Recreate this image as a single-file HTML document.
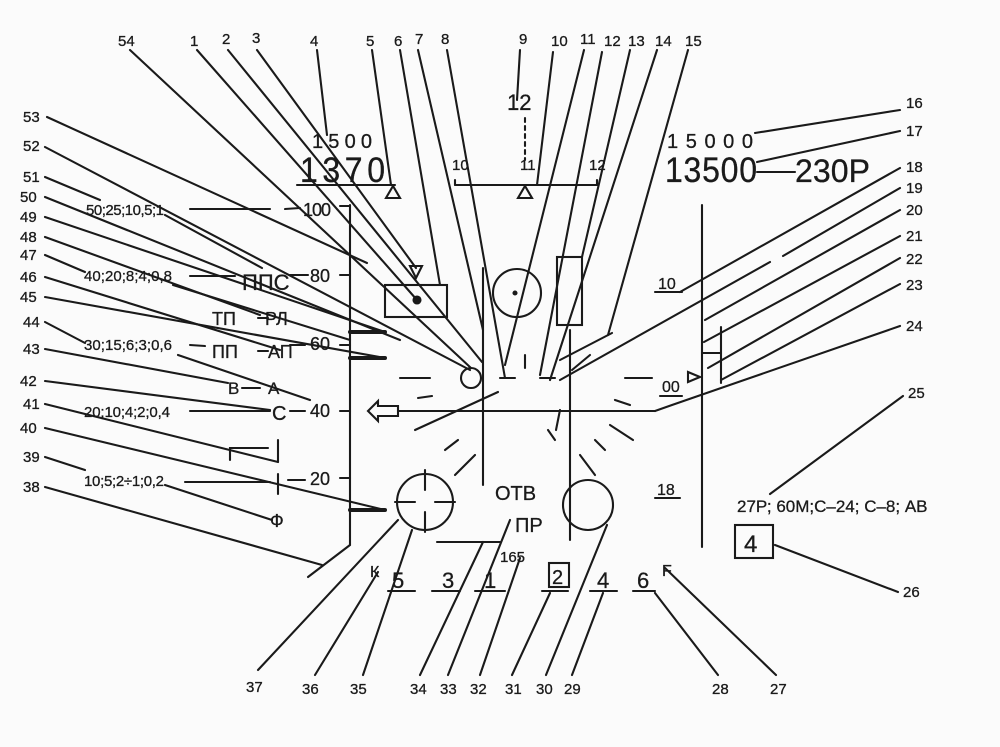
<!DOCTYPE html>
<html><head><meta charset="utf-8"><style>
html,body{margin:0;padding:0;background:#fbfbfb;}
svg{display:block}
text{font-family:"Liberation Sans",sans-serif;fill:#1a1a1a;stroke:#1a1a1a;stroke-width:0.3}
.n{font-size:15px}
.c{font-family:"Liberation Sans Narrow","Liberation Sans",sans-serif}
</style></head><body>
<svg width="1000" height="747" viewBox="0 0 1000 747" xmlns="http://www.w3.org/2000/svg">
<g stroke="#1a1a1a" stroke-width="2.1" fill="none" stroke-linecap="round">
<line x1="350" y1="205" x2="350" y2="545"/>
<line x1="340" y1="206" x2="350" y2="206"/>
<line x1="340" y1="275" x2="350" y2="275"/>
<line x1="340" y1="345" x2="350" y2="345"/>
<line x1="340" y1="411" x2="350" y2="411"/>
<line x1="340" y1="478" x2="350" y2="478"/>
<line x1="350" y1="545" x2="308" y2="577"/>
<line x1="350" y1="332" x2="385" y2="332" stroke-width="4"/>
<line x1="350" y1="358" x2="385" y2="358" stroke-width="4"/>
<line x1="350" y1="510" x2="385" y2="510" stroke-width="4"/>
<line x1="297" y1="185" x2="395" y2="185"/>
<polygon points="386,198 400,198 393,186"/>
<line x1="455" y1="185" x2="597" y2="185"/>
<line x1="455" y1="180" x2="455" y2="185"/><line x1="597" y1="180" x2="597" y2="185"/>
<polygon points="518,198 532,198 525,186"/>
<line x1="525" y1="118" x2="525" y2="160" stroke-dasharray="4,4"/>
<line x1="702" y1="205" x2="702" y2="547"/>
<line x1="721" y1="327" x2="721" y2="383"/>
<line x1="702" y1="353" x2="721" y2="353"/>
<polygon points="688,372 700,377 688,382"/>
<line x1="398" y1="411" x2="655" y2="411"/>
<polyline points="655,411 672,405 900,326"/>
<polygon points="368,411 378,401 378,406 398,406 398,416 378,416 378,421"/>
<line x1="483" y1="268" x2="483" y2="485"/>
<line x1="570" y1="330" x2="570" y2="540"/>
<rect x="385" y="285" width="62" height="32"/>
<circle cx="417" cy="300" r="3.5" fill="#1a1a1a"/>
<polygon points="410,266 422,266 416,278"/>
<circle cx="517" cy="293" r="24"/>
<circle cx="515" cy="293" r="1.5" fill="#1a1a1a"/>
<rect x="557" y="257" width="25" height="68"/>
<circle cx="471" cy="378" r="10"/>
<circle cx="425" cy="502" r="28"/>
<line x1="425" y1="470" x2="425" y2="490"/><line x1="425" y1="512" x2="425" y2="532"/>
<line x1="395" y1="502" x2="415" y2="502"/><line x1="435" y1="502" x2="455" y2="502"/>
<circle cx="588" cy="505" r="25"/>
<line x1="437" y1="542" x2="500" y2="542"/>
<line x1="400" y1="378" x2="430" y2="378"/><line x1="418" y1="398" x2="432" y2="396"/>
<line x1="500" y1="378" x2="515" y2="378"/><line x1="540" y1="378" x2="555" y2="378"/>
<line x1="625" y1="378" x2="652" y2="378"/>
<line x1="415" y1="430" x2="498" y2="392"/>
<line x1="445" y1="450" x2="458" y2="440"/><line x1="455" y1="475" x2="475" y2="455"/>
<line x1="615" y1="400" x2="630" y2="405"/><line x1="610" y1="425" x2="633" y2="440"/>
<line x1="595" y1="440" x2="605" y2="450"/><line x1="580" y1="455" x2="595" y2="475"/>
<line x1="548" y1="430" x2="555" y2="440"/>
<line x1="560" y1="410" x2="556" y2="430"/>
<line x1="525" y1="355" x2="525" y2="368"/>
<line x1="590" y1="355" x2="572" y2="370"/>
<line x1="190" y1="209" x2="270" y2="209"/><line x1="285" y1="209" x2="300" y2="208"/>
<line x1="190" y1="276" x2="235" y2="276"/><line x1="290" y1="275" x2="308" y2="275"/>
<line x1="258" y1="318" x2="268" y2="318"/>
<line x1="190" y1="345" x2="205" y2="346"/><line x1="258" y1="351" x2="268" y2="351"/><line x1="290" y1="345" x2="305" y2="345"/>
<line x1="242" y1="388" x2="260" y2="388"/>
<line x1="190" y1="411" x2="270" y2="411"/><line x1="290" y1="411" x2="305" y2="411"/>
<polyline points="230,460 230,448 268,448"/><line x1="278" y1="440" x2="278" y2="462"/>
<line x1="185" y1="482" x2="270" y2="482"/><line x1="278" y1="474" x2="278" y2="494"/><line x1="288" y1="480" x2="305" y2="480"/>
<line x1="757" y1="172" x2="795" y2="172"/>
<line x1="655" y1="292" x2="682" y2="292"/><line x1="660" y1="396" x2="682" y2="396"/><line x1="655" y1="498" x2="680" y2="498"/>
<line x1="388" y1="591" x2="415" y2="591"/><line x1="432" y1="591" x2="460" y2="591"/><line x1="475" y1="591" x2="505" y2="591"/>
<line x1="542" y1="591" x2="568" y2="591"/><line x1="590" y1="591" x2="617" y2="591"/><line x1="633" y1="591" x2="655" y2="591"/>
<rect x="549" y="563" width="20" height="24"/>
<rect x="735" y="525" width="38" height="33"/>
<line x1="130" y1="50" x2="471" y2="368"/>
<line x1="197" y1="50" x2="417" y2="300"/>
<line x1="228" y1="50" x2="482" y2="362"/>
<line x1="257" y1="50" x2="416" y2="268"/>
<line x1="317" y1="50" x2="327" y2="135"/>
<line x1="372" y1="50" x2="391" y2="185"/>
<line x1="400" y1="50" x2="440" y2="285"/>
<line x1="418" y1="50" x2="483" y2="330"/>
<line x1="447" y1="50" x2="505" y2="378"/>
<line x1="520" y1="50" x2="517" y2="100"/>
<line x1="553" y1="52" x2="537" y2="185"/>
<line x1="584" y1="50" x2="505" y2="365"/>
<line x1="602" y1="52" x2="540" y2="375"/>
<line x1="630" y1="50" x2="582" y2="257"/>
<line x1="657" y1="50" x2="550" y2="380"/>
<line x1="688" y1="50" x2="608" y2="335"/><line x1="560" y1="360" x2="612" y2="333"/>
<line x1="900" y1="110" x2="755" y2="133"/>
<line x1="900" y1="131" x2="757" y2="162"/>
<line x1="900" y1="168" x2="680" y2="292"/>
<line x1="900" y1="188" x2="783" y2="256"/><line x1="770" y1="262" x2="560" y2="380"/>
<line x1="900" y1="210" x2="705" y2="320"/>
<line x1="900" y1="236" x2="704" y2="342"/>
<line x1="900" y1="258" x2="708" y2="368"/>
<line x1="900" y1="284" x2="721" y2="380"/>
<line x1="903" y1="396" x2="770" y2="494"/>
<line x1="898" y1="592" x2="775" y2="545"/>
<line x1="776" y1="675" x2="665" y2="568"/>
<line x1="718" y1="675" x2="655" y2="593"/>
<line x1="572" y1="675" x2="603" y2="593"/>
<line x1="546" y1="675" x2="607" y2="525"/>
<line x1="512" y1="675" x2="550" y2="593"/>
<line x1="480" y1="675" x2="520" y2="558"/>
<line x1="448" y1="675" x2="510" y2="520"/>
<line x1="420" y1="675" x2="483" y2="542"/>
<line x1="363" y1="675" x2="412" y2="530"/>
<line x1="315" y1="675" x2="378" y2="572"/>
<line x1="258" y1="670" x2="398" y2="520"/>
<line x1="47" y1="117" x2="367" y2="263"/>
<line x1="45" y1="147" x2="470" y2="370"/>
<line x1="45" y1="177" x2="100" y2="200"/><line x1="165" y1="215" x2="262" y2="268"/>
<line x1="45" y1="197" x2="400" y2="340"/>
<line x1="45" y1="217" x2="385" y2="332"/>
<line x1="45" y1="237" x2="260" y2="315"/>
<line x1="45" y1="255" x2="85" y2="272"/><line x1="173" y1="285" x2="350" y2="340"/>
<line x1="45" y1="277" x2="280" y2="350"/>
<line x1="45" y1="297" x2="385" y2="358"/>
<line x1="45" y1="322" x2="85" y2="343"/><line x1="178" y1="355" x2="310" y2="400"/>
<line x1="45" y1="349" x2="228" y2="383"/>
<line x1="45" y1="381" x2="270" y2="410"/>
<line x1="45" y1="404" x2="278" y2="462"/>
<line x1="45" y1="428" x2="385" y2="510"/>
<line x1="45" y1="457" x2="85" y2="470"/><line x1="165" y1="485" x2="272" y2="520"/>
<line x1="45" y1="487" x2="322" y2="565"/>
</g>
<g class="n">
<text x="118" y="46">54</text><text x="190" y="46">1</text><text x="222" y="44">2</text><text x="252" y="43">3</text>
<text x="310" y="46">4</text><text x="366" y="46">5</text><text x="394" y="46">6</text><text x="415" y="44">7</text><text x="441" y="44">8</text>
<text x="519" y="44">9</text><text x="551" y="46">10</text><text x="580" y="44">11</text><text x="604" y="46">12</text><text x="628" y="46">13</text><text x="655" y="46">14</text><text x="685" y="46">15</text>
<text x="906" y="108">16</text><text x="906" y="136">17</text><text x="906" y="172">18</text><text x="906" y="193">19</text><text x="906" y="215">20</text><text x="906" y="241">21</text><text x="906" y="264">22</text><text x="906" y="290">23</text><text x="906" y="331">24</text><text x="908" y="398">25</text><text x="903" y="597">26</text>
<text x="770" y="694">27</text><text x="712" y="694">28</text><text x="564" y="694">29</text><text x="536" y="694">30</text><text x="505" y="694">31</text><text x="470" y="694">32</text><text x="440" y="694">33</text><text x="410" y="694">34</text><text x="350" y="694">35</text><text x="302" y="694">36</text><text x="246" y="692">37</text>
<text x="23" y="122">53</text><text x="23" y="151">52</text><text x="23" y="182">51</text><text x="20" y="202">50</text><text x="20" y="222">49</text><text x="20" y="242">48</text><text x="20" y="260">47</text><text x="20" y="282">46</text><text x="20" y="302">45</text><text x="23" y="327">44</text><text x="23" y="354">43</text>
<text x="20" y="386">42</text><text x="23" y="409">41</text><text x="20" y="433">40</text><text x="23" y="462">39</text><text x="23" y="492">38</text>
</g>
<g class="c" font-size="15">
<text x="86" y="215" textLength="78">50;25;10,5;1</text>
<text x="84" y="281" textLength="88">40;20;8;4;0,8</text>
<text x="84" y="350" textLength="88">30;15;6;3;0,6</text>
<text x="84" y="417" textLength="86">20;10;4;2;0,4</text>
<text x="84" y="486" textLength="80">10;5;2÷1;0,2</text>
<text x="303" y="216" font-size="18" textLength="28">100</text>
<text x="310" y="282" font-size="18">80</text>
<text x="310" y="350" font-size="18">60</text>
<text x="310" y="417" font-size="18">40</text>
<text x="310" y="485" font-size="18">20</text>
<text x="242" y="290" font-size="22">ППС</text>
<text x="212" y="325" font-size="18">ТП</text><text x="265" y="325" font-size="18">РЛ</text>
<text x="212" y="358" font-size="18">ПП</text><text x="268" y="358" font-size="18">АП</text>
<text x="228" y="394" font-size="17">В</text><text x="268" y="394" font-size="17">А</text>
<text x="272" y="420" font-size="20">С</text>
<text x="270" y="527" font-size="18">Ф</text>
<text x="312" y="148" font-size="20" textLength="66" letter-spacing="6">1500</text>
<text x="300" y="182" font-size="32" textLength="85" transform="translate(0,-18) scale(1,1.1)">1370</text>
<text x="507" y="110" font-size="22">12</text>
<text x="452" y="170" font-size="15">10</text><text x="520" y="170" font-size="15">11</text><text x="589" y="170" font-size="15">12</text>
<text x="667" y="148" font-size="20" textLength="86">15000</text>
<text x="665" y="182" font-size="32" textLength="92" transform="translate(0,-18) scale(1,1.1)">13500</text>
<text x="795" y="182" font-size="32" textLength="75">230Р</text>
<text x="658" y="289" font-size="16">10</text>
<text x="662" y="392" font-size="16">00</text>
<text x="657" y="495" font-size="16">18</text>
<text x="737" y="512" font-size="17">27Р; 60М;С–24;  С–8;  АВ</text>
<text x="744" y="552" font-size="24">4</text>
<text x="495" y="500" font-size="20">ОТВ</text>
<text x="515" y="532" font-size="20">ПР</text>
<text x="500" y="562" font-size="15">165</text>
<text x="370" y="577" font-size="16">К</text>
<text x="392" y="588" font-size="22">5</text><text x="442" y="588" font-size="22">3</text><text x="484" y="588" font-size="22">1</text>
<text x="552" y="584" font-size="20">2</text><text x="597" y="588" font-size="22">4</text><text x="637" y="588" font-size="22">6</text>
<text x="662" y="576" font-size="16">F</text>
</g>
</svg>
</body></html>
